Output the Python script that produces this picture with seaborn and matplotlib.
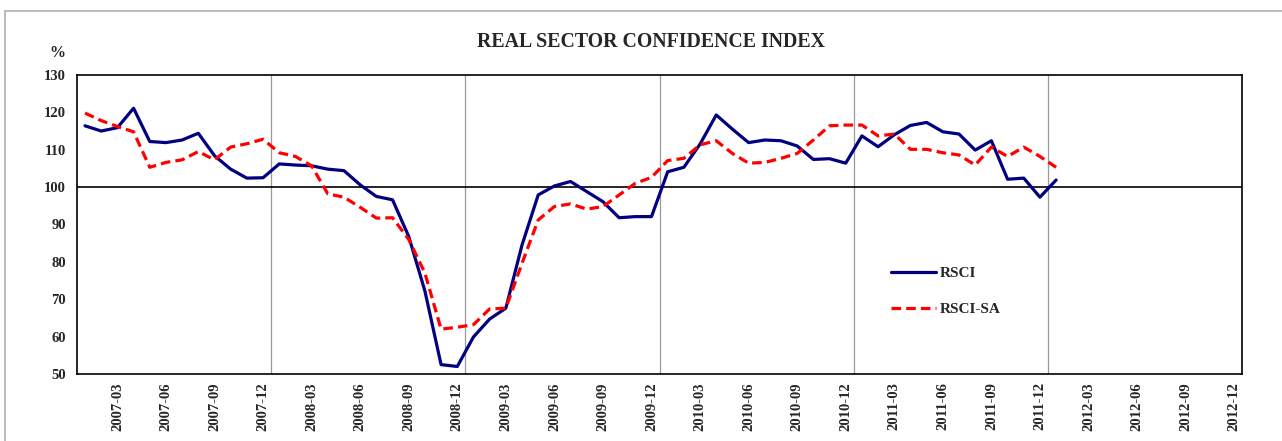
import numpy as np
import pandas as pd
import matplotlib
matplotlib.use("Agg")
import matplotlib.pyplot as plt
import seaborn as sns
from matplotlib.patches import Rectangle

# monthly values, 2007-01 .. 2012-01
rsci = [116.4, 115.0, 115.9, 121.1, 112.2, 111.9, 112.6, 114.4, 108.4, 104.8,
        102.4, 102.5, 106.2, 105.9, 105.7, 104.8, 104.4, 100.6, 97.5, 96.6,
        86.8, 72.2, 52.5, 52.0, 59.9, 64.7, 67.6, 84.5, 97.9, 100.3,
        101.5, 98.8, 96.1, 91.8, 92.1, 92.1, 104.1, 105.3, 111.5, 119.3,
        115.5, 111.9, 112.6, 112.4, 111.0, 107.4, 107.6, 106.4, 113.7, 110.8,
        114.0, 116.5, 117.3, 114.8, 114.2, 109.9, 112.4, 102.1, 102.4, 97.3,
        101.9]
rsci_sa = [119.8, 117.8, 116.2, 114.8, 105.3, 106.6, 107.3, 109.5, 107.3, 110.7,
           111.6, 112.8, 109.2, 108.2, 105.7, 98.2, 97.3, 94.6, 91.7, 91.8,
           86.0, 77.0, 62.0, 62.5, 63.2, 67.4, 67.6, 79.6, 91.2, 94.8,
           95.5, 94.1, 94.8, 97.9, 101.0, 102.6, 107.1, 107.7, 111.3, 112.4,
           109.0, 106.4, 106.6, 107.7, 109.0, 112.6, 116.4, 116.6, 116.6, 113.7,
           114.2, 110.1, 110.1, 109.2, 108.6, 105.9, 110.7, 108.2, 110.7, 108.2,
           105.3]
months = [f"{y}-{m:02d}" for y in range(2007, 2013) for m in range(1, 13)]
tick_labels = [m for m in months if int(m[-2:]) % 3 == 0]

sns.set_style("white")
plt.rcParams['font.family'] = ['Liberation Serif', 'DejaVu Serif']
plt.rcParams['font.weight'] = 'bold'

n = len(rsci)
df = pd.DataFrame({
    'pos': list(range(n)) * 2,
    'value': rsci + rsci_sa,
    'series': ['RSCI'] * n + ['RSCI-SA'] * n,
})

fig = plt.figure(figsize=(12.82, 4.41), dpi=100)
fig.patches.append(Rectangle((0.004, -0.1), 1.1, 1.075, transform=fig.transFigure,
                             fill=False, edgecolor='#b0b0b0', linewidth=1.2))
ax = fig.add_axes([0.060, 0.152, 0.909, 0.678])

sns.lineplot(data=df, x='pos', y='value', hue='series', style='series',
             palette={'RSCI': '#000080', 'RSCI-SA': '#ff0000'},
             dashes={'RSCI': '', 'RSCI-SA': (3, 1.6)},
             linewidth=2.3, ax=ax)

ax.axhline(100, color='black', linewidth=1.2, zorder=1)
for yr_end in range(11, 60, 12):
    ax.axvline(yr_end + 0.5, color='#999999', linewidth=0.9, zorder=0)

ax.set_xlim(-0.5, len(months) - 0.5)
ax.set_ylim(50, 130)
ax.set_yticks(range(50, 131, 10))
ax.set_xticks([months.index(t) for t in tick_labels])
ax.set_xticklabels(tick_labels, rotation=90, fontsize=10.5, fontweight='bold')
ax.tick_params(axis='y', labelsize=10.5, length=0, pad=8)
ax.tick_params(axis='x', length=0, pad=6)
for lab in ax.get_yticklabels():
    lab.set_fontweight('bold')
ax.set_xlabel('')
ax.set_ylabel('')
for sp in ax.spines.values():
    sp.set_color('black')
    sp.set_linewidth(1.2)

ax.legend(loc='upper left', bbox_to_anchor=(0.687, 0.405), frameon=False,
          handlelength=2.9, labelspacing=1.45, handletextpad=0.25,
          prop={'weight': 'bold', 'size': 11})

fig.text(0.508, 0.905, 'REAL SECTOR CONFIDENCE INDEX', ha='center', va='center',
         fontsize=14.3, fontweight='bold')
fig.text(0.045, 0.88, '%', ha='center', va='center', fontsize=11.5, fontweight='bold')

fig.savefig('out.png', dpi=100)
